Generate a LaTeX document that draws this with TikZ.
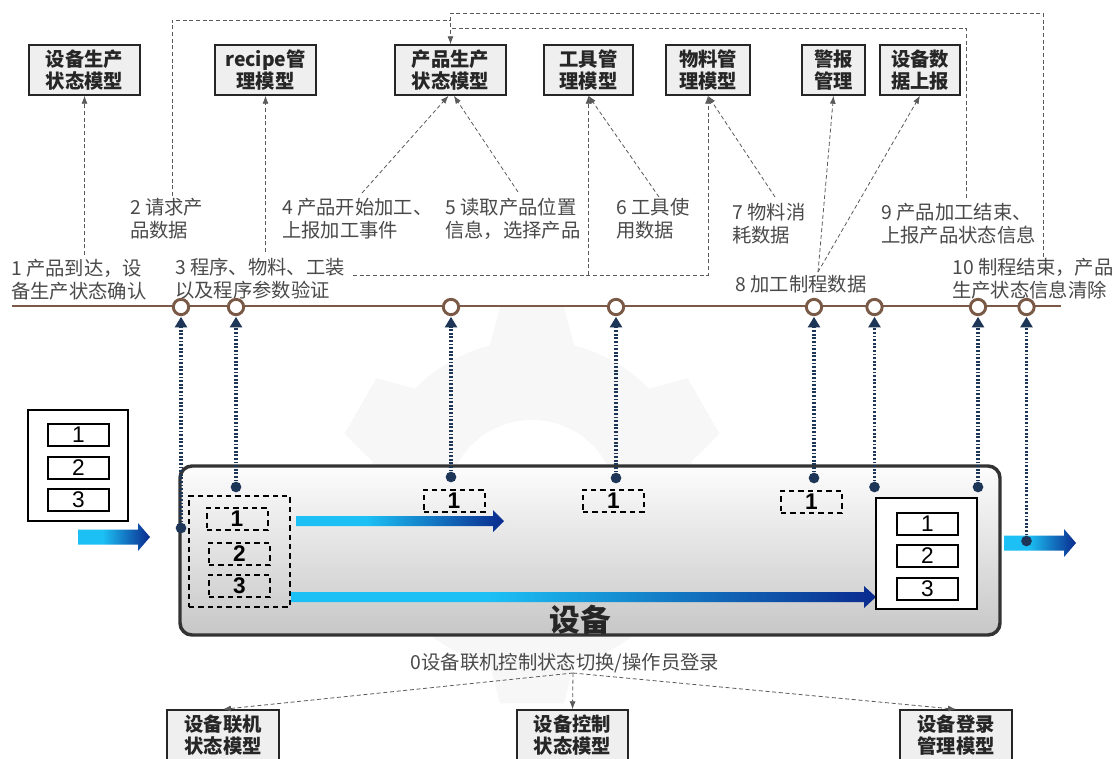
\documentclass[tikz,border=0pt]{standalone}
\usepackage{fontspec}
\setmainfont{Noto Sans CJK SC}
\newfontfamily\arialf{Liberation Sans}
\usetikzlibrary{arrows.meta,calc}
\definecolor{lblc}{HTML}{4A4A4A}
\definecolor{dashc}{HTML}{5A5A5A}
\definecolor{tlc}{HTML}{7A5A46}
\definecolor{navyd}{HTML}{1D3557}
\definecolor{cyanA}{HTML}{1CC0F4}
\definecolor{navyA}{HTML}{0A2A8E}
\definecolor{boxfill}{HTML}{EFEFEF}
\definecolor{gearc}{HTML}{F7F7F7}
\pgfdeclarehorizontalshading{flowshade}{100bp}{color(0bp)=(cyanA); color(25bp)=(cyanA); color(42bp)=(cyanA); color(75bp)=(navyA); color(100bp)=(navyA)}
\newcommand\flowarrow[6]{%
  \shade[shading=flowshade] (#1,{#3-#4}) -- ({#2-#6},{#3-#4}) -- ({#2-#6},{#3-#5}) -- (#2,#3) -- ({#2-#6},{#3+#5}) -- ({#2-#6},{#3+#4}) -- (#1,{#3+#4}) -- cycle;}
\tikzset{
  topbox/.style={draw=black!85, line width=1.1pt, fill=boxfill, minimum height=37.5pt, inner sep=0pt, align=center, font=\fontsize{14.5}{17}\selectfont\bfseries, text=black!85},
  lbl/.style={anchor=north west, inner sep=0pt, align=left, font=\fontsize{14.5}{17}\selectfont, text=lblc},
  dl/.style={draw=dashc, line width=0.6pt, dash pattern=on 3pt off 2pt},
  dla/.style={dl, -{Latex[length=6pt,width=4.5pt]}},
  tlcirc/.style={circle, draw=tlc, line width=2.2pt, fill=white, minimum size=11.5pt, inner sep=0pt},
  ddot/.style={circle, fill=navyd, minimum size=8pt, inner sep=0pt},
  dotar/.style={draw=navyd, line width=2.6pt, dash pattern=on 1.4pt off 1.3pt, -{Triangle[length=8pt,width=9pt]}, shorten >=0.5pt},
  numbox/.style={draw=black, line width=1.5pt, fill=white, minimum width=45.75pt, minimum height=16.5pt, inner sep=0pt, font=\arialf\fontsize{17}{17}\selectfont},
  dnumbox/.style={draw=black, line width=1.5pt, dash pattern=on 4pt off 3pt, minimum width=45.75pt, minimum height=16.5pt, inner sep=0pt, font=\arialf\bfseries\fontsize{17}{17}\selectfont},
  pbox/.style={draw=black, line width=1.5pt, fill=white, minimum width=75pt, minimum height=83.25pt, inner sep=0pt},
}
\begin{document}
\begin{tikzpicture}[x=0.75pt,y=-0.75pt]
\useasboundingbox (0,0) rectangle (1116,758);
\fill[white] (0,0) rectangle (1116,758);
% watermark gear
\begin{scope}[shift={(532,505)}]
  \fill[gearc] (0,0) circle (165);
  \foreach \a in {0,60,...,300}
    \fill[gearc, rotate=\a] (-42,-160) -- (-32,-198) -- (32,-198) -- (42,-160) -- cycle;
  \fill[white] (0,0) circle (85);
\end{scope}

% top model boxes
\node[topbox, minimum width=83.25pt] (tb1) at (84.5,70) {设备生产\\状态模型};
\node[topbox, minimum width=75.75pt] (tb2) at (265.5,70) {recipe管\\理模型};
\node[topbox, minimum width=83.25pt] (tb3) at (450.5,70) {产品生产\\状态模型};
\node[topbox, minimum width=66.75pt] (tb4) at (588.5,70) {工具管\\理模型};
\node[topbox, minimum width=63pt] (tb5) at (708,70) {物料管\\理模型};
\node[topbox, minimum width=47.25pt] (tb6) at (833.5,70) {警报\\管理};
\node[topbox, minimum width=60pt] (tb7) at (920,70) {设备数\\据上报};

% labels
\node[lbl] (L1) at (11,259) {1 产品到达，设\\备生产状态确认};
\node[lbl] (L2) at (130,198) {2 请求产\\品数据};
\node[lbl] (L3) at (175,258) {3 程序、物料、工装\\以及程序参数验证};
\node[lbl] (L4) at (282,198) {4 产品开始加工、\\上报加工事件};
\node[lbl] (L5) at (445,198) {5 读取产品位置\\信息，选择产品};
\node[lbl] (L6) at (616,198) {6 工具使\\用数据};
\node[lbl] (L7) at (732,203) {7 物料消\\耗数据};
\node[lbl] (L8) at (735,275) {8 加工制程数据};
\node[lbl] (L9) at (881,203) {9 产品加工结束、\\上报产品状态信息};
\node[lbl] (L10) at (952,258) {10 制程结束，产品\\生产状态信息清除};

% connector end points
\coordinate (s1) at (84.5,255);
\coordinate (s2) at (172,196);
\coordinate (s3) at (265.5,252);
\coordinate (s3b) at (353,275);
\coordinate (j4) at (588.5,275);
\coordinate (s4) at (362,193);
\coordinate (s5) at (518,192);
\coordinate (s6) at (659,197);
\coordinate (s7) at (775,197);
\coordinate (s8) at (818,272);
\coordinate (s9) at (966,198);
\coordinate (s10) at (1043,257);
\coordinate (k1) at (450.5,13);
\coordinate (k2) at (450.5,20);
\coordinate (k3) at (450.5,28);

\draw[dla] (s1) -- (tb1.south);
\draw[dl] (s2) |- (k2);
\draw[dl] (s9) |- (k3);
\draw[dla] (s10) |- (k1) -- (tb3.north);
\draw[dla] (s3) -- (tb2.south);
\draw[dla] (s3b) -| (tb5.south);
\draw[dla] (j4) -- (tb4.south);
\draw[dla] (s4) -- ([xshift=-1.5pt]tb3.south);
\draw[dla] (s5) -- ([xshift=2.5pt]tb3.south);
\draw[dla] (s6) -- (tb4.south);
\draw[dla] (s7) -- (tb5.south);
\draw[dla] (s8) -- (tb6.south);
\draw[dla] (s8) -- (tb7.south);

% timeline
\coordinate (tl0) at (12,306);
\coordinate (tl1) at (1061,306);
\draw[draw=tlc, line width=2.2pt] (tl0) -- (tl1);
\foreach \n/\x in {1/181,2/236,3/451,4/616,5/814,6/874.5,7/978,8/1026.5}
  \node[tlcirc] (t\n) at (\x,307) {};

% device
\node[draw=black!80, line width=2.6pt, rounded corners=9pt, top color=black!1, bottom color=black!22, minimum width=615pt, minimum height=126.75pt, inner sep=0pt] (dev) at (590,550.5) {};
\node[font=\fontsize{23}{23}\selectfont\bfseries, text=black!85] (devl) at (580,620) {设备};

% input product box
\node[pbox] (inb) at (78,465.5) {};
\node[numbox] (in1) at (78.5,435) {1};
\node[numbox] (in2) at (78.5,468) {2};
\node[numbox] (in3) at (78.5,500) {3};
\flowarrow{78}{150}{537}{7.5}{14}{12}

% dashed group inside device
\node[draw=black, line width=1.5pt, dash pattern=on 4pt off 3pt, minimum width=75.75pt, minimum height=83.25pt, inner sep=0pt] (grp) at (239.5,551.5) {};
\node[dnumbox] (g1) at (237,519) {1};
\node[dnumbox] (g2) at (239.5,554) {2};
\node[dnumbox] (g3) at (239.5,586) {3};
\node[dnumbox] (p1) at (454,500.5) {1};
\node[dnumbox] (p2) at (613.5,500.5) {1};
\node[dnumbox] (p3) at (811.5,502) {1};
\flowarrow{296}{504}{521}{5}{11}{11}
\flowarrow{291}{876}{597}{5}{11}{12}

% output product box
\node[pbox, minimum width=75.75pt] (outb) at (926.5,553.5) {};
\node[numbox] (o1) at (927.5,523.5) {1};
\node[numbox] (o2) at (927.5,556) {2};
\node[numbox] (o3) at (927.5,588.5) {3};
\flowarrow{1004}{1076}{543}{7.5}{14}{12}

% dots and dotted arrows
\foreach \n/\x/\y in {1/181/528,2/236/487,3/451/477,4/616/478,5/814/478,6/874.5/487,7/978/487,8/1026.5/541}
  \node[ddot] (d\n) at (\x,\y) {};
\foreach \n in {1,...,8}
  \draw[dotar] (d\n) -- (t\n);

% bottom
\node[font=\fontsize{14.5}{17}\selectfont, text=lblc, inner sep=0pt] (L0) at (565,663) {0设备联机控制状态切换/操作员登录};
\coordinate (o0) at (573,673);
\node[topbox, minimum width=84pt, minimum height=37.5pt] (bb1) at (223,735) {设备联机\\状态模型};
\node[topbox, minimum width=83.25pt, minimum height=37.5pt] (bb2) at (572.5,735) {设备控制\\状态模型};
\node[topbox, minimum width=84pt, minimum height=37.5pt] (bb3) at (956,735) {设备登录\\管理模型};
\draw[dla] (o0) -- (bb1.north);
\draw[dla] (o0) -- (bb2.north);
\draw[dla] (o0) -- (bb3.north);
\end{tikzpicture}
\end{document}
